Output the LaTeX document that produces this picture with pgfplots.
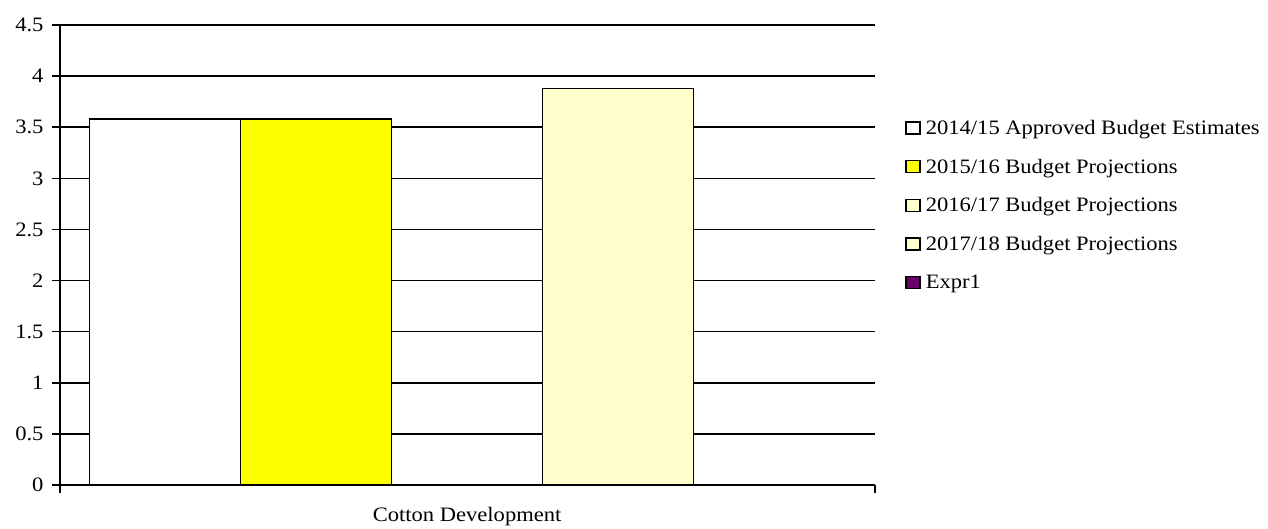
\documentclass[border=0pt]{standalone}
\usepackage{fontspec}
\setmainfont{Liberation Serif}[FakeStretch=1.1]
\usepackage{pgfplots}
\pgfplotsset{compat=1.18}
\definecolor{lyel}{RGB}{255,255,204}
\definecolor{yel}{RGB}{255,255,0}
\definecolor{expr}{RGB}{102,0,102}
\begin{document}
\begin{tikzpicture}[x=1pt,y=1pt]
\useasboundingbox (0,0) rectangle (1268,528);
\begin{axis}[
  at={(60pt,43pt)}, anchor=south west,
  scale only axis, width=815pt, height=460pt,
  font=\fontsize{20.5}{24}\selectfont,
  xmin=-2.695, xmax=2.70, ymin=0, ymax=4.5,
  ytick={0,0.5,1,1.5,2,2.5,3,3.5,4,4.5},
  yticklabels={0,0.5,1,1.5,2,2.5,3,3.5,4,4.5},
  yticklabel style={xshift=-5pt},
  xtick={0}, xticklabels={Cotton Development},
  xticklabel style={yshift=-11pt},
  minor xtick={-2.695,2.70},
  major x tick style={draw=none},
  axis lines=left,
  axis line style={-, black, line width=1.5pt},
  tick style={black, line width=1.5pt},
  tick align=outside,
  major tick length=8pt, minor tick length=8pt,
  ymajorgrids,
  grid style={black, line width=1.5pt},
  ybar, bar width=1,
  legend style={draw=none, fill=none, at={(1.037,0.798)}, anchor=north west,
    font=\fontsize{20.5}{24}\selectfont, row sep=19pt, inner sep=0pt,
    nodes={inner xsep=5pt}},
  legend cell align=left,
  legend image code/.code={\draw[#1, line width=1.5pt] (0pt,-6pt) rectangle (14pt,6pt);},
  clip=false,
]
\addplot[bar shift=0pt, fill=white, draw=black, line width=1.5pt] coordinates {(-2,3.58)};
\addplot[bar shift=0pt, fill=yel, draw=black, line width=1.5pt] coordinates {(-1,3.58)};
\addplot[bar shift=0pt, fill=lyel, draw=black, line width=1.5pt] coordinates {(0,0)};
\addplot[bar shift=0pt, fill=lyel, draw=black, line width=1.5pt] coordinates {(1,3.88)};
\addplot[bar shift=0pt, fill=expr, draw=black, line width=1.5pt] coordinates {(2,0)};
\legend{2014/15 Approved Budget Estimates, 2015/16 Budget Projections, 2016/17 Budget Projections, 2017/18 Budget Projections, Expr1}
\end{axis}
\end{tikzpicture}
\end{document}
